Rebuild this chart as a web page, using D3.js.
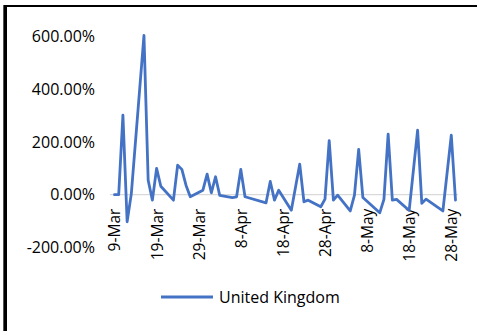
<!DOCTYPE html>
<html>
<head>
<meta charset="utf-8">
<script src="https://cdn.jsdelivr.net/npm/d3@7"></script>
<style>
  html, body { margin: 0; padding: 0; background: #fff; }
  svg { display: block; }
  text { font-family: "Open Sans", "Liberation Sans", sans-serif; fill: #000; }
</style>
</head>
<body>
<svg id="chart" width="477" height="331"></svg>
<script>
// Daily percentage change, United Kingdom (2020)
const dates = [
  "2020-03-09","2020-03-10","2020-03-11","2020-03-12","2020-03-13","2020-03-16",
  "2020-03-17","2020-03-18","2020-03-19","2020-03-20","2020-03-23","2020-03-24",
  "2020-03-25","2020-03-26","2020-03-27","2020-03-30","2020-03-31","2020-04-01",
  "2020-04-02","2020-04-03","2020-04-06","2020-04-07","2020-04-08","2020-04-09",
  "2020-04-14","2020-04-15","2020-04-16","2020-04-17","2020-04-20","2020-04-22",
  "2020-04-23","2020-04-24","2020-04-27","2020-04-28","2020-04-29","2020-04-30",
  "2020-05-01","2020-05-04","2020-05-05","2020-05-06","2020-05-07","2020-05-11",
  "2020-05-12","2020-05-13","2020-05-14","2020-05-15","2020-05-18","2020-05-20",
  "2020-05-21","2020-05-22","2020-05-26","2020-05-28","2020-05-29"
];
const ukChange = [
  0, 0, 302, -103, 4, 605,
  55, -21, 100, 32, -21, 112,
  96, 35, -8, 17, 78, 7,
  68, -3, -11, -8, 96, -8,
  -31, 50, -21, 17, -59, 116,
  -27, -21, -46, -17, 205, -21,
  -2, -62, -2, 172, -11, -69,
  -18, 230, -21, -18, -60, 245,
  -33, -17, -62, 226, -21
];
const seriesName = "United Kingdom";
const yTicks = [-200, 0, 200, 400, 600];
const xTickDates = [
  "2020-03-09","2020-03-19","2020-03-29","2020-04-08","2020-04-18",
  "2020-04-28","2020-05-08","2020-05-18","2020-05-28"
];
const xTickLabels = ["9-Mar","19-Mar","29-Mar","8-Apr","18-Apr","28-Apr","8-May","18-May","28-May"];

const parse = d3.utcParse("%Y-%m-%d");
const points = dates.map((d, i) => ({ date: parse(d), value: ukChange[i] }));

const svg = d3.select("#chart");
const lineColor = "#4472C4";
const lineWidth = 2.8;

// Frame edges
svg.append("rect").attr("x", 3).attr("y", 5).attr("width", 474).attr("height", 2).attr("fill", "#000");
svg.append("rect").attr("x", 3).attr("y", 5).attr("width", 1).attr("height", 326).attr("fill", "#555");
svg.append("rect").attr("x", 4).attr("y", 5).attr("width", 3).attr("height", 326).attr("fill", "#000");

const x = d3.scaleUtc()
  .domain(d3.extent(points, p => p.date))
  .range([114.5, 455.5]);

const y = d3.scaleLinear()
  .domain([-200, 600])
  .range([247.3, 36.7]);

// Y axis labels (no axis line, no ticks)
const yAxis = svg.append("g")
  .attr("transform", "translate(110,0)")
  .call(d3.axisLeft(y).tickValues(yTicks).tickSize(0).tickPadding(15)
    .tickFormat(d => d.toFixed(2) + "%"));
yAxis.select(".domain").remove();
yAxis.selectAll("text")
  .attr("font-size", 16)
  .attr("font-family", "Open Sans")
  .attr("fill", "#000");

// Zero line
const y0 = y(0);
svg.append("line")
  .attr("x1", x.range()[0] - 4.5).attr("x2", x.range()[1] + 2.5)
  .attr("y1", y0).attr("y2", y0)
  .attr("stroke", "#d9d9d9").attr("stroke-width", 1.3);

// X axis labels, rotated
const tickMap = new Map(xTickDates.map((d, i) => [+parse(d), xTickLabels[i]]));
const xAxis = svg.append("g")
  .attr("transform", `translate(0,${y0})`)
  .call(d3.axisBottom(x).tickValues(xTickDates.map(parse)).tickSize(0)
    .tickFormat(d => tickMap.get(+d)));
xAxis.select(".domain").remove();
xAxis.selectAll("text")
  .attr("font-size", 15.5)
  .attr("font-family", "Open Sans")
  .attr("fill", "#000")
  .attr("text-anchor", "end")
  .attr("x", 0).attr("y", 0)
  .attr("dy", "0.35em")
  .attr("transform", "translate(0,14) rotate(-90)");

// Series line
const line = d3.line().x(p => x(p.date)).y(p => y(p.value));
svg.append("path")
  .datum(points)
  .attr("d", line)
  .attr("fill", "none")
  .attr("stroke", lineColor)
  .attr("stroke-width", lineWidth)
  .attr("stroke-linejoin", "round")
  .attr("stroke-linecap", "round");

// Legend
const legend = svg.append("g").attr("transform", "translate(161,297)");
legend.append("line")
  .attr("x1", 0).attr("x2", 52).attr("y1", 0).attr("y2", 0)
  .attr("stroke", lineColor).attr("stroke-width", lineWidth);
legend.append("text")
  .attr("x", 58).attr("y", 0).attr("dy", "0.35em")
  .attr("font-size", 16)
  .text(seriesName);
</script>
</body>
</html>
